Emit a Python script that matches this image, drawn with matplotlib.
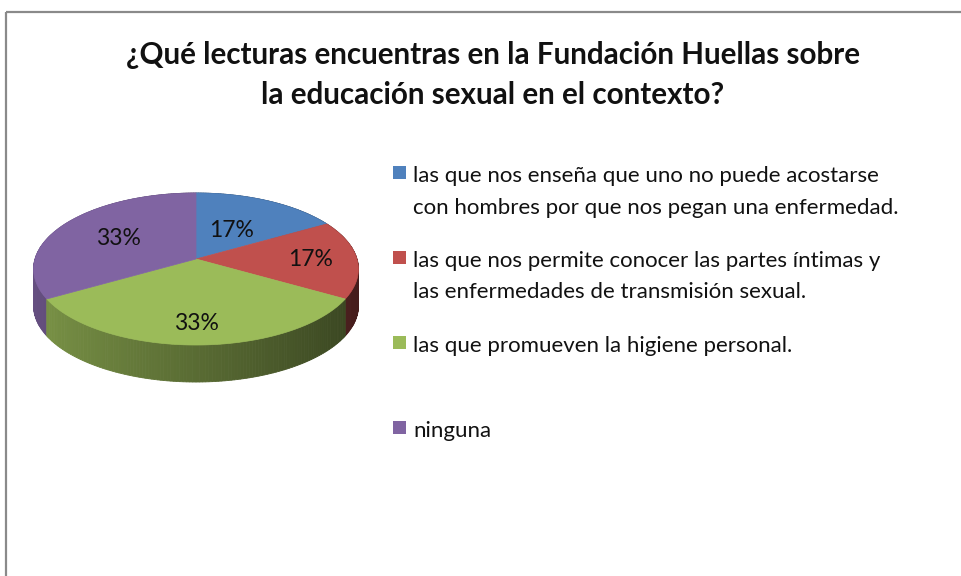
import numpy as np
import matplotlib
matplotlib.use('Agg')
import matplotlib.pyplot as plt
from matplotlib.patches import Polygon, Rectangle
import matplotlib.colors as mcolors

title_lines = ["¿Qué lecturas encuentras en la Fundación Huellas sobre",
               "la educación sexual en el contexto?"]
categories = [
    "las que nos enseña que uno no puede acostarse\ncon hombres por que nos pegan una enfermedad.",
    "las que nos permite conocer las partes íntimas y\nlas enfermedades de transmisión sexual.",
    "las que promueven la higiene personal.",
    "ninguna",
]
values = [1, 1, 2, 2]
colors = ['#4F81BD', '#C0504D', '#9BBB59', '#8064A2']

FONT = 'Lato'
W, H = 961, 576
fig = plt.figure(figsize=(W / 100, H / 100), dpi=100)
ax = fig.add_axes([0, 0, 1, 1])
ax.set_xlim(0, W)
ax.set_ylim(H, 0)
ax.axis('off')

# chart border (left and top visible)
ax.add_patch(Rectangle((5.5, 11.5), 2000, 2000, fill=False, ec='#8a8a8a', lw=1.6))

# title
for j, line in enumerate(title_lines):
    ax.text(493, 64 + j * 40, line, ha='center', va='baseline', fontsize=21.3,
            fontweight='bold', family=FONT, color='#111111')

# 3D pie geometry
cx, cy = 196, 259
a, b, k, depth = 161, 74.7, 0.1316, 37


def proj(theta, r=1.0):
    x = r * np.sin(theta)
    z = r * np.cos(theta)
    s = 1.0 / (1.0 + k * z)
    return cx + a * x * s, cy - b * z * s


vals = np.array(values, dtype=float)
fr = vals / vals.sum()
bounds = np.concatenate([[0], np.cumsum(fr)]) * 2 * np.pi

# side strips
strips = []
for i in range(len(vals)):
    t0, t1 = bounds[i], bounds[i + 1]
    n = max(8, int((t1 - t0) / (2 * np.pi) * 360))
    ts = np.linspace(t0, t1, n + 1)
    for j in range(n):
        ta, tb = ts[j], ts[j + 1]
        tm = 0.5 * (ta + tb)
        strips.append((np.cos(tm), i, ta, tb, tm))
strips.sort(key=lambda s: -s[0])
for _, i, ta, tb, tm in strips:
    xa, ya = proj(ta)
    xb, yb = proj(tb)
    f = 0.8 - 0.45 * (np.sin(tm) + 1) / 2
    base = np.array(mcolors.to_rgb(colors[i]))
    c = base * f
    ax.add_patch(Polygon([(xa, ya), (xb, yb), (xb, yb + depth), (xa, ya + depth)],
                         closed=True, fc=c, ec=c, lw=0.6))

# top faces
for i in range(len(vals)):
    ts = np.linspace(bounds[i], bounds[i + 1], 200)
    pts = [(cx, cy)] + [proj(t) for t in ts]
    ax.add_patch(Polygon(pts, closed=True, fc=colors[i], ec=colors[i], lw=0.5))

# data labels
label_r = [0.46, 0.71, 0.78, 0.58]
for i in range(len(vals)):
    tm = 0.5 * (bounds[i] + bounds[i + 1])
    x, y = proj(tm, label_r[i])
    ax.text(x, y, f"{fr[i] * 100:.0f}%", ha='center', va='center', fontsize=16.5,
            family=FONT, color='#111111')

# legend
leg_base = [182, 267, 352, 437]
sq = 13
for i, cat in enumerate(categories):
    yb = leg_base[i]
    ax.add_patch(Rectangle((393, yb - 3 - sq), sq, sq, fc=colors[i], ec='none'))
    for j, line in enumerate(cat.split('\n')):
        ax.text(413, yb + j * 31.5, line, ha='left', va='baseline', fontsize=16,
                family=FONT, color='#111111')

fig.savefig('out.png', dpi=100, facecolor='white')
